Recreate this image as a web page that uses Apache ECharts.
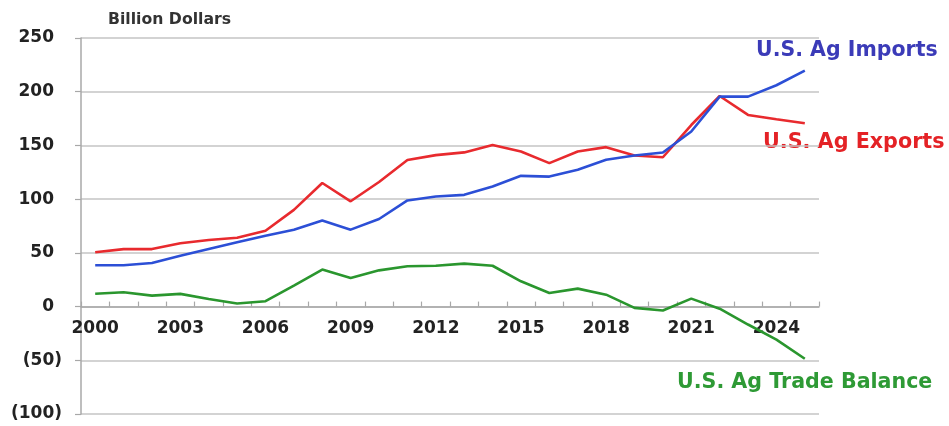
<!DOCTYPE html>
<html>
<head>
<meta charset="utf-8">
<script src="https://cdn.jsdelivr.net/npm/echarts@6/dist/echarts.min.js"></script>
<style>html,body{margin:0;padding:0;background:#fff;}#c{width:949px;height:426px;}</style>
</head>
<body>
<div id="c"></div>
<script>
var years = ['2000','2001','2002','2003','2004','2005','2006','2007','2008','2009','2010','2011','2012','2013','2014','2015','2016','2017','2018','2019','2020','2021','2022','2023','2024','2025'];
var exportsData = [50.5,53.5,53.5,59,62,64,70.6,90,115,98,116,136.5,141,143.5,150.5,144.3,133.5,144.3,148.4,140.6,139,169,196,178.4,174.4,170.7];
var importsData = [38.5,38.5,40.6,47.4,53.6,59.8,66,71.6,80.2,71.6,81.5,98.8,102.5,104,111.8,121.7,121,127.3,136.6,140.6,143.4,163,195.4,195.4,206,219.6];
var balanceData = [12,13.3,10.2,11.8,7.1,2.8,5,19.5,34.4,26.6,33.7,37.5,38,40,38,23.5,12.7,16.7,11.1,-1.2,-3.7,7.4,-2,-16.7,-30.7,-48.6];
var yTicks = {min:-100, max:250, interval:50};

var chart = echarts.init(document.getElementById('c'));
var font = '"DejaVu Sans", Arial, sans-serif';
var gridTop = 38, gridBottom = 12, H = 426;
var plotH = H - gridTop - gridBottom;
var zeroOffset = plotH * (0 - yTicks.min) / (yTicks.max - yTicks.min);
chart.setOption({
  animation:false,
  backgroundColor:'#fff',
  grid:{left:81,right:130,top:gridTop,bottom:gridBottom,containLabel:false},
  xAxis:{
    type:'category', data:years, boundaryGap:true, position:'bottom', offset:-zeroOffset,
    axisLine:{onZero:false,lineStyle:{color:'#a8a8a8',width:1.5}},
    axisTick:{show:true,inside:true,length:5,interval:0,lineStyle:{color:'#a8a8a8',width:1.2}},
    axisLabel:{interval:2,margin:14,color:'#222',fontWeight:'bold',fontSize:17,fontFamily:font},
    splitLine:{show:false}
  },
  yAxis:{
    type:'value', min:yTicks.min, max:yTicks.max, interval:yTicks.interval,
    axisLine:{show:true,lineStyle:{color:'#a8a8a8',width:1.5}},
    axisTick:{show:true,length:6,lineStyle:{color:'#a8a8a8',width:1.2}},
    axisLabel:{margin:19,color:'#222',fontWeight:'bold',fontSize:17,fontFamily:font,
      formatter:function(v){return v<0?'('+(-v)+')':v+'{p|}';},
      rich:{p:{width:8,fontSize:17}}},
    splitLine:{show:true,lineStyle:{color:'#c4c4c4',width:1.5}}
  },
  series:[
    {name:'Exports',type:'line',data:exportsData,symbol:'none',lineStyle:{color:'#e82a2e',width:2.6},z:3},
    {name:'Imports',type:'line',data:importsData,symbol:'none',lineStyle:{color:'#2c4fd6',width:2.6},z:4},
    {name:'Balance',type:'line',data:balanceData,symbol:'none',lineStyle:{color:'#2a962e',width:2.6},z:3}
  ],
  graphic:[
    {type:'text',x:108,y:20,style:{text:'Billion Dollars',font:'bold 15.7px '+font,fill:'#333',textVerticalAlign:'middle'}},
    {type:'text',x:756,y:51,style:{text:'U.S. Ag Imports',font:'bold 20.5px '+font,fill:'#3b3bb8',textVerticalAlign:'middle'}},
    {type:'text',x:763,y:143,style:{text:'U.S. Ag Exports',font:'bold 20.7px '+font,fill:'#e42226',textVerticalAlign:'middle'}},
    {type:'text',x:677,y:383,style:{text:'U.S. Ag Trade Balance',font:'bold 20.6px '+font,fill:'#2e9a35',textVerticalAlign:'middle'}}
  ]
});
</script>
</body>
</html>
